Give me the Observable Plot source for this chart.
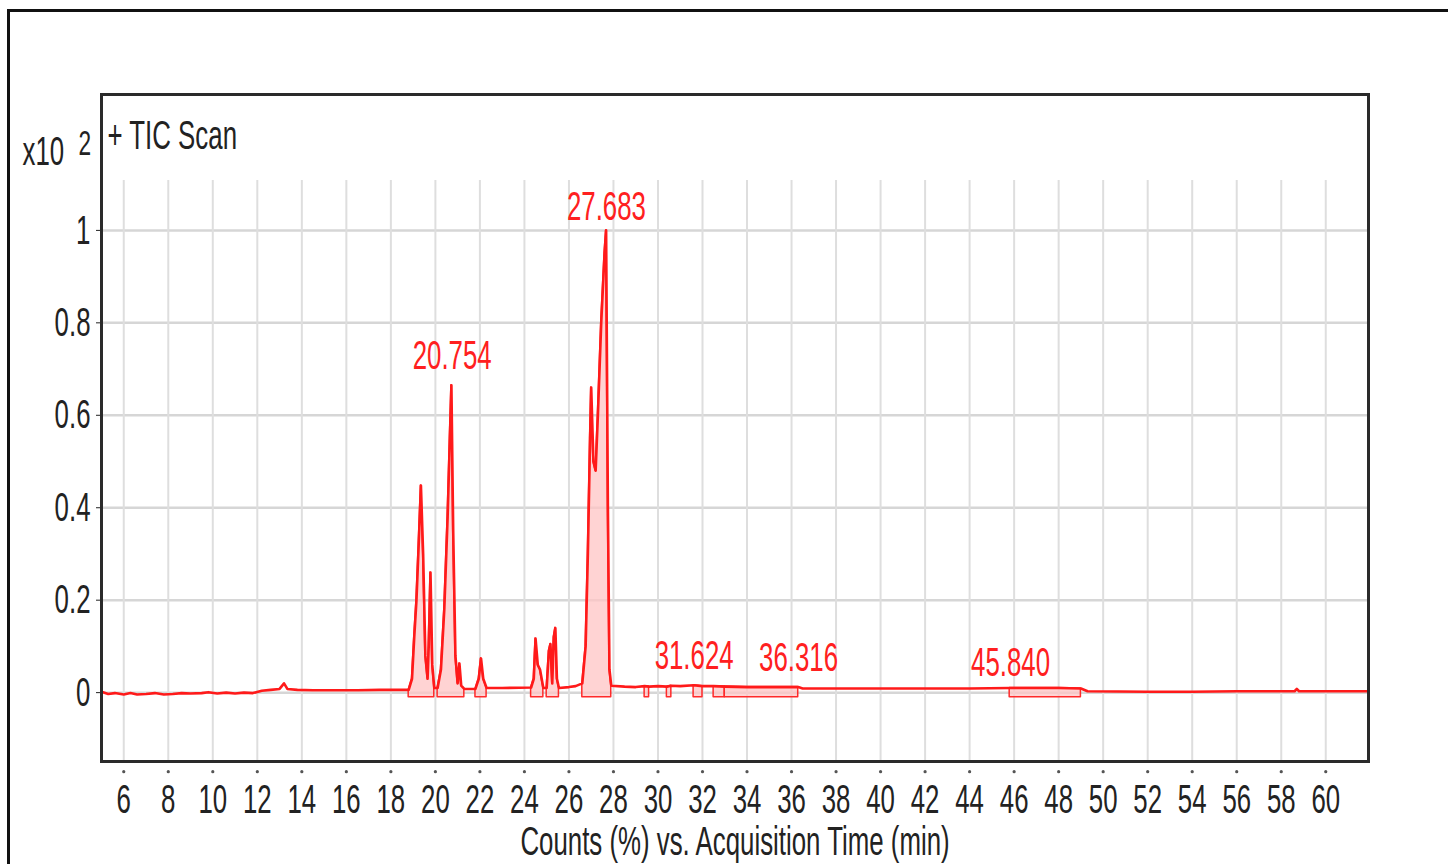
<!DOCTYPE html>
<html>
<head>
<meta charset="utf-8">
<script src="https://cdn.jsdelivr.net/npm/d3@7"></script>
<script src="https://cdn.jsdelivr.net/npm/@observablehq/plot@0.6"></script>
<style>
  html, body { margin: 0; padding: 0; background: #fff; overflow: hidden; }
  #wrap { position: relative; width: 1448px; height: 864px; overflow: hidden; }
  #border { position: absolute; left: 7px; top: 9px; width: 1460px; height: 900px; border: 3px solid #111; box-sizing: border-box; }
  #chart { position: absolute; left: 0; top: 0; }
</style>
</head>
<body>
<div id="wrap"><div id="border"></div><div id="chart"></div></div>
<script>
// ---- data ----
const xTicks = [6,8,10,12,14,16,18,20,22,24,26,28,30,32,34,36,38,40,42,44,46,48,50,52,54,56,58,60];
const yTicks = [0, 0.2, 0.4, 0.6, 0.8, 1];

// TIC trace: acquisition time (min) and counts (x10^2)
const times = [
  5.0, 5.3, 5.6, 6.0, 6.3, 6.6, 7.0, 7.4, 7.8, 8.2, 8.6, 9.0, 9.5, 9.8, 10.2, 10.6, 11.0, 11.4, 11.8, 12.2, 12.6,
  13.0, 13.2, 13.35, 13.8, 14.5, 15.5, 16.5, 17.5, 18.5, 18.8,
  18.95, 19.05, 19.15, 19.25, 19.35, 19.45, 19.55, 19.65, 19.7, 19.78, 19.86, 19.95,
  20.1, 20.25, 20.4, 20.55, 20.65, 20.72, 20.8, 20.9, 21.0, 21.08, 21.16, 21.3,
  21.8, 21.95, 22.05, 22.15, 22.3, 23.0,
  24.3, 24.42, 24.5, 24.6, 24.7, 24.85, 25.0, 25.1, 25.17, 25.25, 25.32, 25.39, 25.46, 25.55,
  26.0, 26.3, 26.6, 26.75, 26.85, 26.95, 27.0, 27.1, 27.2, 27.3, 27.45, 27.6, 27.67, 27.75, 27.82, 27.9,
  28.5, 29.0, 29.4, 29.6, 30.0, 30.4, 30.6, 31.0, 31.6, 32.0, 32.5, 33.0, 34.0, 35.0, 36.3, 36.5,
  38.0, 40.0, 42.0, 44.0, 45.8, 46.5, 48.0, 49.0, 49.3, 52.0, 54.0, 56.0, 58.6, 58.7, 58.8, 60.0, 61.9
];
const counts = [
  0.002, -0.003, -0.001, -0.004, -0.001, -0.004, -0.003, -0.001, -0.004, -0.003, -0.001, -0.002, -0.001, 0.001, -0.002, 0.0, -0.002, 0.0, -0.001, 0.004, 0.006,
  0.008, 0.02, 0.008, 0.006, 0.005, 0.005, 0.005, 0.006, 0.006, 0.006,
  0.03, 0.12, 0.2, 0.32, 0.448, 0.3, 0.08, 0.03, 0.1, 0.26, 0.06, 0.01,
  0.01, 0.05, 0.18, 0.38, 0.55, 0.665, 0.35, 0.08, 0.02, 0.063, 0.015, 0.008,
  0.008, 0.03, 0.074, 0.03, 0.01, 0.01,
  0.011, 0.03, 0.117, 0.06, 0.05, 0.01, 0.01, 0.09, 0.105, 0.02, 0.12, 0.14, 0.03, 0.01,
  0.012, 0.014, 0.02, 0.1, 0.3, 0.55, 0.66, 0.5, 0.48, 0.6, 0.8, 0.95, 1.0, 0.4, 0.05, 0.015,
  0.013, 0.012, 0.014, 0.013, 0.014, 0.013, 0.015, 0.014, 0.016, 0.014, 0.014, 0.013, 0.012, 0.012, 0.012, 0.009,
  0.009, 0.009, 0.009, 0.009, 0.01, 0.01, 0.01, 0.009, 0.003, 0.002, 0.002, 0.003, 0.003, 0.008, 0.003, 0.003, 0.003
];

// integrated peak regions (start / end, min)
const regionStarts = [18.8, 20.1, 21.8, 24.3, 25.0, 26.6, 29.4, 30.4, 31.6, 32.5, 33.0, 45.8];
const regionEnds   = [19.95, 21.3, 22.3, 24.85, 25.55, 27.9, 29.6, 30.6, 32.0, 33.0, 36.3, 49.0];

// peak annotations
const peakTimes  = [27.683, 20.754, 31.624, 36.316, 45.840];
const peakLabels = ["27.683", "20.754", "31.624", "36.316", "45.840"];
const labelY     = [1.05, 0.729, 0.080, 0.076, 0.065];

const yTop = 1.294, yBottom = -0.149, vGridTop = 1.108;

// ---- build tables ----
const trace = times.map((t, i) => ({t, v: counts[i]}));
const regionRows = [];
regionStarts.forEach((a, r) => {
  trace.forEach(d => { if (d.t >= a && d.t <= regionEnds[r]) regionRows.push({t: d.t, v: d.v, r}); });
});
const peaks = peakTimes.map((t, i) => ({t, y: labelY[i], label: peakLabels[i]}));

const chart = Plot.plot({
  width: 1448,
  height: 864,
  marginLeft: 101,
  marginRight: 80,
  marginTop: 94,
  marginBottom: 103,
  style: {fontFamily: "'Liberation Sans', Arial, sans-serif", fontSize: "41px", background: "transparent", color: "#222"},
  x: {domain: [5.0, 61.92], ticks: xTicks, tickFormat: d => String(d), tickSize: 0, tickPadding: 22, label: null},
  y: {domain: [yBottom, yTop], ticks: yTicks, tickFormat: d => String(d), tickSize: 5, tickPadding: 6, label: null},
  marks: [
    Plot.ruleY(yTicks, {stroke: "#d6d6d6", strokeWidth: 2.5}),
    Plot.ruleX(xTicks, {y1: () => vGridTop, y2: () => yBottom, stroke: "#dedede", strokeWidth: 2}),
    Plot.areaY(regionRows, {x: "t", y1: () => -0.01, y2: "v", z: "r", fill: "#ffc4c4", fillOpacity: 0.75, stroke: "#ff2a2a", strokeWidth: 1.5}),
    Plot.line(trace, {x: "t", y: "v", stroke: "#ff1a1a", strokeWidth: 2.6}),
    Plot.dot(xTicks, {x: d => d, y: () => -0.171, r: 1.6, fill: "#555", stroke: null}),
    Plot.text(peaks, {x: "t", y: "y", text: "label", fill: "#ff2020", fontSize: 41, lineAnchor: "middle"}),
    Plot.text(["+ TIC Scan"], {frameAnchor: "top-left", dx: 6, dy: 41, textAnchor: "start", lineAnchor: "middle", fill: "#222"}),
    Plot.text(["x10"], {frameAnchor: "top-left", dx: -79, dy: 57, textAnchor: "start", lineAnchor: "middle", fill: "#222"}),
    Plot.text(["Counts (%) vs. Acquisition Time (min)"], {frameAnchor: "bottom", dy: 80, lineAnchor: "middle", fill: "#222"}),
    Plot.frame({stroke: "#2a2a2a", strokeWidth: 3})
  ]
});
document.getElementById("chart").appendChild(chart);

const SQUEEZE = 0.63;
const NS = "http://www.w3.org/2000/svg";
let multiplier = null;

// superscript exponent on the "x10" multiplier
chart.querySelectorAll("text").forEach(el => {
  if (el.textContent === "x10") {
    const ts = document.createElementNS(NS, "tspan");
    ts.setAttribute("dx", "23");
    ts.setAttribute("dy", "-10");
    ts.setAttribute("font-size", "36");
    ts.textContent = "2";
    el.appendChild(ts);
    multiplier = el;
  }
});

// condense text horizontally (the reference type is tall and narrow)
chart.querySelectorAll("text").forEach(el => {
  if (el === multiplier) return;
  const w = el.getComputedTextLength();
  if (w > 0) {
    el.setAttribute("textLength", (w * SQUEEZE).toFixed(1));
    el.setAttribute("lengthAdjust", "spacingAndGlyphs");
  }
});

// the multiplier (with its superscript) is condensed with a horizontal scale about its left edge
if (multiplier) {
  const parent = multiplier.parentNode;
  const r = multiplier.getBoundingClientRect();
  const inv = parent.getScreenCTM().inverse();
  const p = new DOMPoint(r.left, r.top).matrixTransform(inv);
  const x0 = p.x;
  const g = document.createElementNS(NS, "g");
  g.setAttribute("transform", `translate(${x0},0) scale(${SQUEEZE},1) translate(${-x0},0)`);
  parent.insertBefore(g, multiplier);
  g.appendChild(multiplier);
}
</script>
</body>
</html>
